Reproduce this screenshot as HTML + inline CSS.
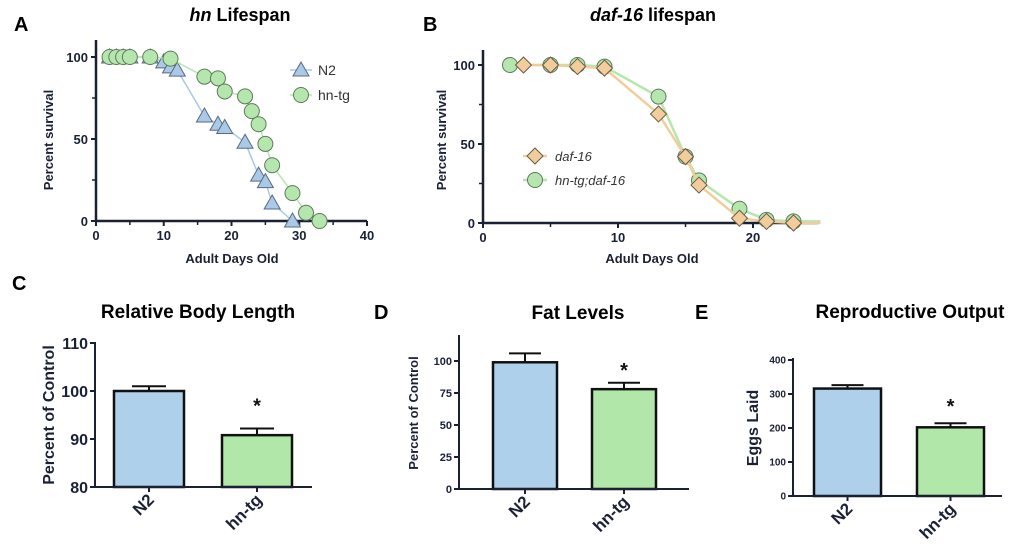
<!DOCTYPE html>
<html><head><meta charset="utf-8"><style>
body{margin:0;background:#fff;width:1020px;height:551px;overflow:hidden}
svg{font-family:"Liberation Sans",Arial,sans-serif}
</style></head><body>
<svg id="fig" width="1020" height="551" xmlns="http://www.w3.org/2000/svg"></svg>
<script>
// Panel A data
const aN2Days=[2,3,4,5,8,10,11,12,16,18,19,22,24,25,26,29];
const aN2Surv=[100,100,100,100,100,97,94,92,64,59,57,48,28,24,11,0];
const aTgDays=[2,3,4,5,8,11,16,18,19,22,23,24,25,26,29,31,33];
const aTgSurv=[100,100,100,100,100,99,88,87,79,76,67,59,47,34,17,5,0];
const aXTicks=[0,10,20,30,40];
const aYTicks=[0,50,100];
// Panel B data
const bDafDays=[3,5,7,9,13,15,16,19,21,23,25];
const bDafSurv=[100,100,99,98,69,42,24,3,1,0,0];
const bDafMark=[1,1,1,1,1,1,1,1,1,1,0];
const bTgDays=[2,5,7,9,13,15,16,19,21,23,25];
const bTgSurv=[100,100,100,99,80,42,27,9,2,1,1];
const bTgMark=[1,1,1,1,1,1,1,1,1,1,0];
const bXTicks=[0,10,20];
const bYTicks=[0,50,100];
// Bar panels
const barCats=["N2","hn-tg"];
const cVals=[100,90.8], cErr=[1.0,1.4], cTicks=[80,90,100,110];
const dVals=[99,78], dErr=[7,5], dTicks=[0,25,50,75,100];
const eVals=[316,202], eErr=[10,12], eTicks=[0,100,200,300,400];

const NS="http://www.w3.org/2000/svg", svg=document.getElementById('fig');
const AX="#1b2135";
function el(t,a,p){const e=document.createElementNS(NS,t);for(const k in a)e.setAttribute(k,a[k]);(p||svg).appendChild(e);return e;}
function txt(s,x,y,a,name,p){const e=el('text',Object.assign({x:x,y:y,fill:AX},a),p);e.textContent=s;


return e;}
function grp(name){const g=el('g',{});


return g;}
function tri(x,y,g){return el('polygon',{points:`${x},${y-8} ${x+8},${y+6} ${x-8},${y+6}`,fill:'#a9c9e6',stroke:'#5a6a80','stroke-width':1},g);}
function circ(x,y,g){return el('circle',{cx:x,cy:y,r:7.5,fill:'#b5e6ad',stroke:'#5e7a5a','stroke-width':1},g);}
function dia(x,y,g){return el('polygon',{points:`${x},${y-8} ${x+8},${y} ${x},${y+8} ${x-8},${y}`,fill:'#f2cd9c',stroke:'#6b5a45','stroke-width':1},g);}

function linePanel(o){
  const g=grp(o.name);
  const sx=v=>o.x0+(v-o.xmin)*(o.x1-o.x0)/(o.xmax-o.xmin);
  const sy=v=>o.y0-(v)*(o.y0-o.y1)/100;
  el('line',{x1:o.x0,y1:o.top,x2:o.x0,y2:o.y0,stroke:AX,'stroke-width':2.5},g);
  el('line',{x1:o.x0,y1:o.y0,x2:o.xend,y2:o.y0,stroke:AX,'stroke-width':2.5},g);
  o.xt.forEach(v=>{el('line',{x1:sx(v),y1:o.y0,x2:sx(v),y2:o.y0+5,stroke:AX,'stroke-width':2},g);
    txt(v,sx(v),o.y0+19,{'font-size':13,'font-weight':'bold','text-anchor':'middle'},'x-tick-label',g);
    const m=v+(o.xt[1]-o.xt[0])/2; if(sx(m)<o.xend) el('line',{x1:sx(m),y1:o.y0,x2:sx(m),y2:o.y0+4,stroke:AX,'stroke-width':1.5},g);});
  o.yt.forEach(v=>{el('line',{x1:o.x0-5,y1:sy(v),x2:o.x0,y2:sy(v),stroke:AX,'stroke-width':2},g);
    txt(v,o.x0-8,sy(v)+5,{'font-size':13,'font-weight':'bold','text-anchor':'end'},'y-tick-label',g);
    if(v<100) el('line',{x1:o.x0-4,y1:sy(v+25),x2:o.x0,y2:sy(v+25),stroke:AX,'stroke-width':1.5},g);});
  o.series.forEach(s=>{
    const sg=grp(s.name);g.appendChild(sg);
    el('polyline',{points:s.x.map((v,i)=>sx(v)+','+sy(s.y[i])).join(' '),fill:'none',stroke:s.line,'stroke-width':s.w||1.5},sg);
    s.x.forEach((v,i)=>{if(!s.mark||s.mark[i]){const m=s.marker(sx(v),sy(s.y[i]),sg);
      
      }});
  });
  return g;
}

// Panel A
txt('A',14,31,{'font-size':20,'font-weight':'bold',fill:'#000'},'panel-a-label');
const ta=txt('',240,21,{'font-size':18,'font-weight':'bold','text-anchor':'middle',fill:'#000'},'panel-a-title');
ta.innerHTML='<tspan font-style="italic">hn</tspan> Lifespan';
linePanel({name:'panel-a-chart',x0:96,x1:367,xmin:0,xmax:40,xend:367,y0:221,y1:57,top:40,xt:aXTicks,yt:aYTicks,
 series:[{name:'n2-series',x:aN2Days,y:aN2Surv,line:'#a9c9e6',marker:tri},
         {name:'hn-tg-series',x:aTgDays,y:aTgSurv,line:'#b5e6ad',marker:circ}]});
txt('Percent survival',0,0,{'font-size':13,'font-weight':'bold','text-anchor':'middle',transform:'translate(53,140) rotate(-90)'},'y-axis-title-a');
txt('Adult Days Old',232,263,{'font-size':13,'font-weight':'bold','text-anchor':'middle'},'x-axis-title-a');
const lgA=grp('legend-a');
el('line',{x1:290,y1:70,x2:312,y2:70,stroke:'#a9c9e6','stroke-width':1.5},lgA);tri(301,70,lgA);
txt('N2',318,75,{'font-size':14,fill:'#333'},'legend-entry-n2',lgA);
el('line',{x1:290,y1:95,x2:312,y2:95,stroke:'#b5e6ad','stroke-width':1.5},lgA);circ(301,95,lgA);
txt('hn-tg',318,100,{'font-size':14,fill:'#333'},'legend-entry-hn-tg',lgA);

// Panel B
txt('B',423,31,{'font-size':20,'font-weight':'bold',fill:'#000'},'panel-b-label');
const tb=txt('',653,21,{'font-size':18,'font-weight':'bold','text-anchor':'middle',fill:'#000'},'panel-b-title');
tb.innerHTML='<tspan font-style="italic">daf-16</tspan> lifespan';
linePanel({name:'panel-b-chart',x0:483,x1:753,xmin:0,xmax:20,xend:818,y0:223,y1:65,top:50,xt:bXTicks,yt:bYTicks,
 series:[{name:'hn-tg-daf16-series',x:bTgDays,y:bTgSurv,mark:bTgMark,line:'#b5e6ad',w:2.5,marker:circ},
         {name:'daf16-series',x:bDafDays,y:bDafSurv,mark:bDafMark,line:'#f2cd9c',w:2.5,marker:dia}]});
txt('Percent survival',0,0,{'font-size':13,'font-weight':'bold','text-anchor':'middle',transform:'translate(446,140) rotate(-90)'},'y-axis-title-b');
txt('Adult Days Old',652,263,{'font-size':13,'font-weight':'bold','text-anchor':'middle'},'x-axis-title-b');
const lgB=grp('legend-b');
el('line',{x1:523,y1:156,x2:547,y2:156,stroke:'#f2cd9c','stroke-width':2.5},lgB);dia(535,156,lgB);
txt('daf-16',555,161,{'font-size':13,'font-style':'italic',fill:'#333'},'legend-entry-daf16',lgB);
el('line',{x1:523,y1:180,x2:547,y2:180,stroke:'#b5e6ad','stroke-width':2.5},lgB);circ(535,180,lgB);
txt('hn-tg;daf-16',555,185,{'font-size':13,'font-style':'italic',fill:'#333'},'legend-entry-hn-tg-daf16',lgB);

function barPanel(o){
  const g=grp(o.name);
  const sy=v=>o.y0-(v-o.vmin)*(o.y0-o.y1)/(o.vmax-o.vmin);
  const cols=['#aed0ea','#b1e8aa'];
  o.vals.forEach((v,i)=>{
    const bx=o.bx[i];
    const bg=grp('bar-'+barCats[i]);g.appendChild(bg);
    el('line',{x1:bx+o.bw/2,y1:sy(v),x2:bx+o.bw/2,y2:sy(v+o.err[i]),stroke:'#111','stroke-width':2},bg);
    el('line',{x1:bx+o.bw/2-o.cap,y1:sy(v+o.err[i]),x2:bx+o.bw/2+o.cap,y2:sy(v+o.err[i]),stroke:'#111','stroke-width':2},bg);
    el('rect',{x:bx,y:sy(v),width:o.bw,height:o.y0-sy(v),fill:cols[i],stroke:'#111','stroke-width':2.5},bg);
    el('line',{x1:bx+o.bw/2,y1:o.y0,x2:bx+o.bw/2,y2:o.y0+5,stroke:AX,'stroke-width':2},g);
    txt(barCats[i],0,0,{'font-size':o.xfs,'font-weight':'bold','text-anchor':'end',transform:`translate(${bx+o.bw/2+6},${o.y0+14}) rotate(-45)`},'x-tick-label',g);
  });
  el('line',{x1:o.x0,y1:o.top,x2:o.x0,y2:o.y0,stroke:AX,'stroke-width':2},g);
  el('line',{x1:o.x0,y1:o.y0,x2:o.xend,y2:o.y0,stroke:AX,'stroke-width':2},g);
  o.ticks.forEach(v=>{el('line',{x1:o.x0-5,y1:sy(v),x2:o.x0,y2:sy(v),stroke:AX,'stroke-width':2},g);
    txt(v,o.x0-7,sy(v)+o.yfs*0.36,{'font-size':o.yfs,'font-weight':'bold','text-anchor':'end'},'y-tick-label',g);});
  txt('*',o.bx[1]+o.bw/2,sy(o.vals[1]+o.err[1])+o.star,{'font-size':20,'font-weight':'bold','text-anchor':'middle',fill:'#111'},'significance-star',g);
}
// C
txt('C',12,290,{'font-size':20,'font-weight':'bold',fill:'#000'},'panel-c-label');
txt('Relative Body Length',198,318,{'font-size':19,'font-weight':'bold','text-anchor':'middle',fill:'#000'},'panel-c-title');
barPanel({name:'panel-c-chart',x0:95,xend:312,y0:487,y1:343,top:342,vmin:80,vmax:110,vals:cVals,err:cErr,ticks:cTicks,bx:[114,222],bw:70,cap:17,yfs:16,xfs:17,star:-16});
txt('Percent of Control',0,0,{'font-size':16,'font-weight':'bold','text-anchor':'middle',transform:'translate(54,415) rotate(-90)'},'y-axis-title-c');
// D
txt('D',374,319,{'font-size':20,'font-weight':'bold',fill:'#000'},'panel-d-label');
txt('Fat Levels',578,319,{'font-size':19,'font-weight':'bold','text-anchor':'middle',fill:'#000'},'panel-d-title');
barPanel({name:'panel-d-chart',x0:459,xend:689,y0:489,y1:361,top:335,vmin:0,vmax:100,vals:dVals,err:dErr,ticks:dTicks,bx:[493,592],bw:64,cap:16,yfs:11,xfs:17,star:-6});
txt('Percent of Control',0,0,{'font-size':13,'font-weight':'bold','text-anchor':'middle',transform:'translate(418,413) rotate(-90)'},'y-axis-title-d');
// E
txt('E',695,319,{'font-size':20,'font-weight':'bold',fill:'#000'},'panel-e-label');
txt('Reproductive Output',910,318,{'font-size':19,'font-weight':'bold','text-anchor':'middle',fill:'#000'},'panel-e-title');
barPanel({name:'panel-e-chart',x0:793,xend:1002,y0:496,y1:360,top:358,vmin:0,vmax:400,vals:eVals,err:eErr,ticks:eTicks,bx:[814,917],bw:67,cap:16,yfs:10,xfs:17,star:-10});
txt('Eggs Laid',0,0,{'font-size':16,'font-weight':'bold','text-anchor':'middle',transform:'translate(758,428) rotate(-90)'},'y-axis-title-e');
</script>
</body></html>
